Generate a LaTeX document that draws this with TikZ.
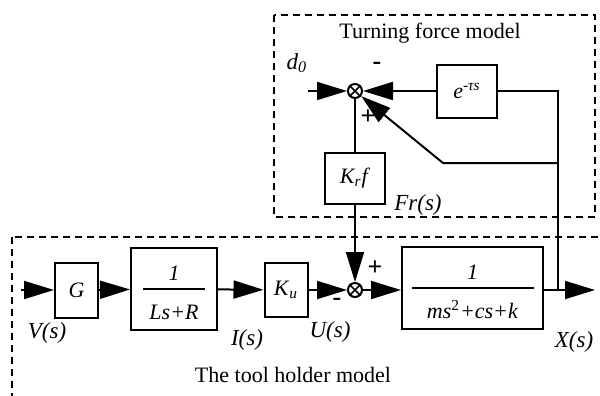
\documentclass[tikz,border=0pt]{standalone}
\usepackage{fontspec}
\setmainfont{Liberation Serif}
\usetikzlibrary{arrows.meta}
\setlength{\arrayrulewidth}{0.9pt}

% fraction inside a block: numerator, bar, denominator
\newcommand{\blockfrac}[3]{\begin{tabular}{@{}c@{}}\rule{0pt}{15pt}#2\\\hline\rule{0pt}{15pt}\makebox[#1]{#3}\end{tabular}}

\begin{document}
\begin{tikzpicture}[x=0.5pt,y=-0.5pt,
    font=\fontsize{11}{13}\selectfont,
    blk/.style={draw,line width=1pt,inner sep=0pt},
    junction/.style={draw,circle,line width=1pt,minimum size=7pt,inner sep=0pt},
    sig/.style={line width=1pt,-{Triangle[length=15pt,width=9pt]}},
    zone/.style={line width=0.8pt,dash pattern=on 3.5pt off 2.5pt},
    lbl/.style={font=\fontsize{11.5}{13}\selectfont\itshape},
    sgn/.style={font=\fontsize{13}{15}\selectfont\bfseries}]
    \useasboundingbox (0,0) rectangle (600,396);
    \clip (0,0) rectangle (600,396);

    % dashed frames of the two sub-models
    \draw[zone] (274,15) rectangle (595,217);
    \draw[zone] (12,237) rectangle (620,420);
    \node (titleT) at (430,33) {Turning force model};
    \node (titleB) at (293,375) {The tool holder model};

    % tool holder loop
    \coordinate (vin) at (21,290);
    \node[blk,minimum width=21.5pt,minimum height=27.5pt] (G) at (76.5,290) {\textit{G}};
    \node[blk,minimum width=43pt,minimum height=41pt] (amp) at (174,289) {\blockfrac{31pt}{\textit{1}}{\textit{Ls+R}}};
    \node[blk,minimum width=21.5pt,minimum height=27pt] (Ku) at (286,290) {\textit{K}\textsubscript{\textit{u}}};
    \node[junction] (sumB) at (355,290) {};
    \node[blk,minimum width=70.5pt,minimum height=41pt] (plant) at (472.5,288) {\blockfrac{61pt}{\textit{1}}{\textit{ms}\textsuperscript{2}\textit{+cs+k}}};
    \coordinate (split) at (558,290);
    \coordinate (out) at (595,290);

    % turning force loop
    \coordinate (d0in) at (308,91);
    \node[junction] (sumT) at (355,91) {};
    \node[blk,minimum width=30pt,minimum height=26.5pt] (delay) at (467,91) {\textit{e}\textsuperscript{-\textit{τs}}};
    \node[blk,minimum width=30pt,minimum height=25.5pt] (Kf) at (355,178) {\textit{K\textsubscript{r}f}};
    \coordinate (fbtop) at (558,91);
    \coordinate (fbmid) at (558,163);
    \coordinate (bend) at (443,163);

    \foreach \j in {sumT,sumB} {
        \draw[line width=0.8pt] (\j.45) -- (\j.225) (\j.135) -- (\j.315);
    }

    \draw[sig] (vin) -- (G);
    \draw[sig] (G) -- (amp);
    \draw[sig] (amp) -- (Ku);
    \draw[sig] (Ku) -- (sumB);
    \draw[sig] (sumB) -- (plant.west |- sumB);
    \draw[sig] (plant.east |- split) -- (out);
    \draw[line width=1pt] (split) -- (fbtop) -- (delay);
    \draw[sig] (delay) -- (sumT);
    \draw[sig] (fbmid) -- (bend) -- (sumT);
    \draw[sig] (d0in) -- (sumT);
    \draw[line width=1pt] (Kf) -- (sumT);
    \draw[sig] (Kf) -- (sumB);

    % signal names and signs
    \node[lbl] (d0) at (297,63) {d\textsubscript{0}};
    \node[sgn] (minusT) at (377,66) {-};
    \node[sgn] (plusT) at (368,117) {+};
    \node[sgn] (plusB) at (375,268) {+};
    \node[sgn] (minusB) at (337,302) {-};
    \node[lbl] (Fr) at (418,205) {Fr(s)};
    \node[lbl] (Vs) at (47,333) {V(s)};
    \node[lbl] (Is) at (247,340) {I(s)};
    \node[lbl] (Us) at (330,332) {U(s)};
    \node[lbl] (Xs) at (574,342) {X(s)};
\end{tikzpicture}
\end{document}
